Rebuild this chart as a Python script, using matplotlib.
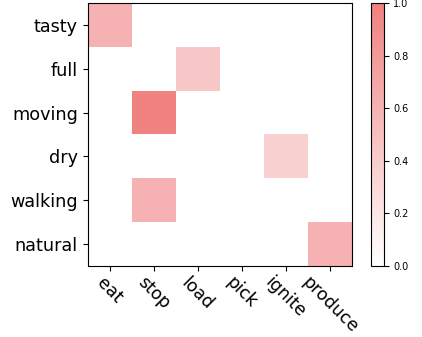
import numpy as np
import matplotlib
matplotlib.use("Agg")
import matplotlib.pyplot as plt
from matplotlib.colors import LinearSegmentedColormap

rows = ["tasty", "full", "moving", "dry", "walking", "natural"]
cols = ["eat", "stop", "load", "pick", "ignite", "produce"]

# attention weights, one row per adjective
weights = [
    [0.60, 0.00, 0.00, 0.00, 0.00, 0.00],
    [0.00, 0.00, 0.43, 0.00, 0.00, 0.00],
    [0.00, 0.98, 0.00, 0.00, 0.00, 0.00],
    [0.00, 0.00, 0.00, 0.00, 0.37, 0.00],
    [0.00, 0.60, 0.00, 0.00, 0.00, 0.00],
    [0.00, 0.00, 0.00, 0.00, 0.00, 0.60],
]

cmap = LinearSegmentedColormap.from_list("wr", ["white", "lightcoral"])

fig = plt.figure(figsize=(4.22, 3.37), dpi=100)
ax = fig.add_axes([87.5 / 422, 71 / 337, 264 / 422, 263 / 337])
cax = fig.add_axes([370.5 / 422, 71 / 337, 13 / 422, 263 / 337])

im = ax.imshow(np.array(weights), cmap=cmap, vmin=0, vmax=1, aspect="auto")
ax.set_xticks(range(len(cols)))
ax.set_yticks(range(len(rows)))
ax.set_xticklabels(cols, rotation=-45, fontsize=12.5)
ax.tick_params(axis="x", pad=2)
ax.set_yticklabels(rows, fontsize=12.7)

cb = fig.colorbar(im, cax=cax)
cb.ax.tick_params(labelsize=7)
cb.set_ticks([0.0, 0.2, 0.4, 0.6, 0.8, 1.0])

fig.savefig("out.png", dpi=100)
